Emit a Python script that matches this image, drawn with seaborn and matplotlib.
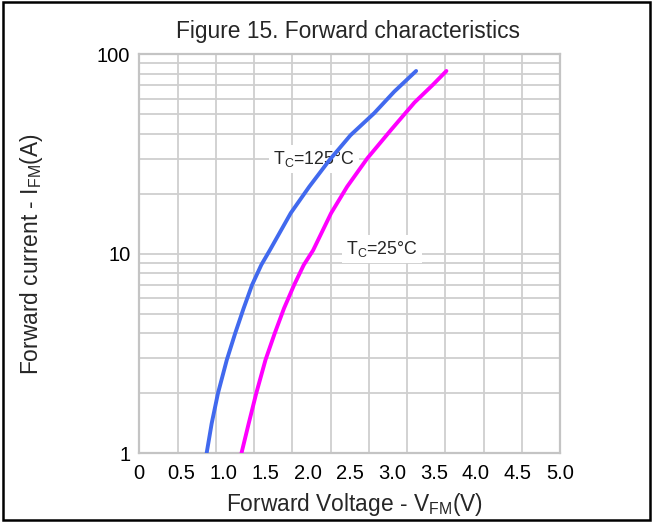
"""Forward characteristics chart (Figure 15)."""

import matplotlib

matplotlib.use("Agg")
import matplotlib.pyplot as plt
import numpy as np
import pandas as pd
import seaborn as sns
from matplotlib.patches import Rectangle

# values
v_125 = [0.80, 0.86, 0.935, 1.04, 1.14, 1.24, 1.34, 1.45, 1.55, 1.80, 2.02,
         2.26, 2.51, 2.79, 3.03, 3.29]
i_125 = [1.0, 1.41, 2.0, 2.94, 4.0, 5.33, 6.98, 8.8, 10.4, 16.0, 21.7,
         29.5, 39.3, 50.6, 65.0, 82.5]
v_25 = [1.214, 1.30, 1.39, 1.50, 1.61, 1.72, 1.84, 1.955, 2.065, 2.28, 2.47,
        2.71, 2.99, 3.27, 3.49, 3.65]
i_25 = [1.0, 1.41, 2.0, 2.94, 4.0, 5.33, 6.98, 8.8, 10.4, 16.0, 21.7,
        30.1, 41.7, 57.3, 70.4, 82.5]

x_ticks = [0, 0.5, 1.0, 1.5, 2.0, 2.5, 3.0, 3.5, 4.0, 4.5, 5.0]
x_labels = ["0", "0.5", "1.0", "1.5", "2.0", "2.5", "3.0", "3.5", "4.0", "4.5", "5.0"]
y_ticks = [1, 10, 100]
y_labels = ["1", "10", "100"]

series = ["125", "25"]
colors = {"125": "#4169ee", "25": "#ff00ff"}

df = pd.concat(
    [
        pd.DataFrame({"V": v_125, "I": i_125, "Tc": "125"}),
        pd.DataFrame({"V": v_25, "I": i_25, "Tc": "25"}),
    ],
    ignore_index=True,
)

sns.set_theme(style="white")
plt.rcParams["font.family"] = ["Liberation Sans", "DejaVu Sans"]
plt.rcParams["mathtext.fontset"] = "custom"
plt.rcParams["mathtext.rm"] = "Liberation Sans"

W, H = 652, 522
fig = plt.figure(figsize=(W / 100, H / 100), dpi=100)
ax = fig.add_axes([139.3 / W, 1 - 453.3 / H, (560 - 139.3) / W, (453.3 - 54.3) / H])

sns.lineplot(
    data=df,
    x="V",
    y="I",
    hue="Tc",
    hue_order=series,
    palette=colors,
    estimator=None,
    sort=False,
    linewidth=2.8,
    solid_capstyle="round",
    legend=False,
    ax=ax,
    zorder=4,
)

ax.set_yscale("log")
ax.set_xlim(0, 5.0)
ax.set_ylim(1, 100)

# gridlines: 11 columns, log minor rows
grid_c = "#cfcfcf"
for gx in np.linspace(0, 5.0, 12):
    ax.axvline(gx, color=grid_c, lw=1.3, zorder=1)
for dec in (1, 10):
    for m in range(1, 10):
        ax.axhline(dec * m, color=grid_c, lw=1.3, zorder=1)

ax.set_xticks(x_ticks)
ax.set_xticklabels(x_labels)
ax.set_yticks(y_ticks)
ax.set_yticklabels(y_labels)
ax.yaxis.set_minor_locator(matplotlib.ticker.NullLocator())
ax.tick_params(axis="both", length=0, labelsize=14.5, colors="black")
ax.tick_params(axis="x", pad=8)
ax.tick_params(axis="y", pad=6.5)
ax.set_xlabel("")
ax.set_ylabel("")
for sp in ax.spines.values():
    sp.set_color("#c4c4c4")
    sp.set_linewidth(1.6)

box = dict(facecolor="white", edgecolor="none", pad=3)
ax.text(1.59, 30, r"T$_{\mathregular{C}}$=125°C", fontsize=12.8, va="center",
        ha="left", bbox=box, zorder=3)
ax.text(2.46, 10.6, r"T$_{\mathregular{C}}$=25°C", fontsize=12.8, va="center",
        ha="left", bbox=box, zorder=3)

fig.text(348.5 / W, 1 - 31 / H, "Figure 15. Forward characteristics",
         fontsize=16.4, ha="center", va="center")
fig.text(355 / W, 1 - 505 / H, r"Forward Voltage - V$_{\mathregular{FM}}$(V)",
         fontsize=16.4, ha="center", va="center")
fig.text(32 / W, 1 - 254 / H, r"Forward current - I$_{\mathregular{FM}}$(A)",
         fontsize=16.4, ha="center", va="center", rotation=90)

fig.patches.append(Rectangle((0.004, 0.003), 0.993, 0.994, transform=fig.transFigure,
                             fill=False, edgecolor="black", linewidth=1.8))

fig.savefig("out.png", dpi=100)
plt.close(fig)
